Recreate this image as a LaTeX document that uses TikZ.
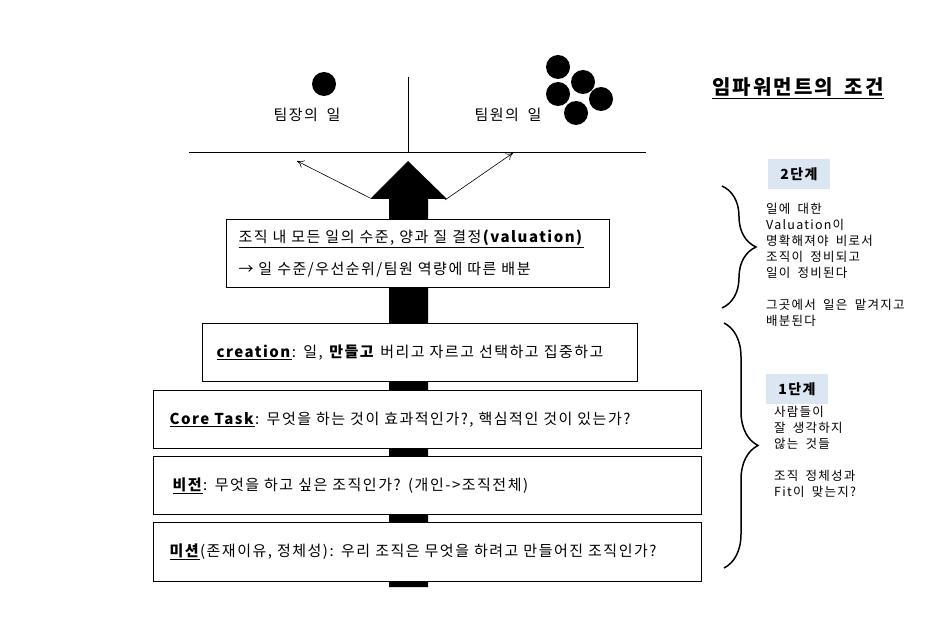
\documentclass[tikz,border=0pt]{standalone}
\usepackage{fontspec}
\setmainfont{Noto Sans CJK KR}[LetterSpace=10,WordSpace=1.8]
\usetikzlibrary{positioning,arrows.meta,decorations.pathreplacing}
\definecolor{stepblue}{HTML}{DCE6F2}

\begin{document}
\begin{tikzpicture}[x=1pt,y=-1pt,
  workbox/.style={draw,line width=1pt,fill=white,anchor=north west,align=left,inner xsep=16pt,font=\fontsize{15}{17}\selectfont},
  dot/.style={circle,fill=black,minimum size=24pt,inner sep=0pt},
  side/.style={font=\fontsize{15}{18}\selectfont},
  note/.style={align=left,anchor=north west,inner sep=0pt,font=\fontsize{12.5}{16}\selectfont},
  stagebox/.style={fill=stepblue,minimum width=62pt,minimum height=30pt,inner sep=0pt,font=\bfseries\fontsize{14}{16}\selectfont},
  stagebrace/.style={decorate,decoration={brace,amplitude=34pt},line width=1.5pt}
]
\useasboundingbox (0,0) rectangle (951,628);

% balance on top
\coordinate (beamL) at (189,152);
\coordinate (beamR) at (646,152);
\coordinate (pivot) at (408,152);
\coordinate (pole) at (408,77);
\draw[line width=0.8pt] (beamL) -- (beamR);
\draw[line width=0.8pt] (pivot) -- (pole);

\node[dot] (lead) at (324,84) {};
\node[side] (leadwork) at (307,115) {팀장의 일};
\node[dot] (m1) at (558,67) {};
\node[dot] (m2) at (583,82) {};
\node[dot] (m3) at (558,94) {};
\node[dot] (m4) at (601,99) {};
\node[dot] (m5) at (576,113) {};
\node[side] (teamwork) at (508,115) {팀원의 일};

\node[font=\bfseries\fontsize{20}{22}\selectfont] (title) at (798,88) {\underline{임파워먼트의 조건}};

% big arrow behind the boxes
\fill (408,161) -- (447,199) -- (428,199) -- (428,587) -- (389,587) -- (389,199) -- (370,199) -- cycle;

\coordinate (headL) at (370,198);
\coordinate (headR) at (445,200);
\coordinate (toLead) at (297,161);
\coordinate (toTeam) at (513,153);
\draw[-{To[length=7pt,width=8pt]},line width=0.6pt] (headL) -- (toLead);
\draw[-{To[length=7pt,width=8pt]},line width=0.6pt] (headR) -- (toTeam);

% stacked boxes
\node[workbox,inner xsep=12pt,text width=359pt,minimum height=68pt] (valuation) at (226,219)
  {\underline{조직 내 모든 일의 수준, 양과 질 결정\textbf{(valuation)}}\\[13pt]
   → 일 수준/우선순위/팀원 역량에 따른 배분};
\node[workbox,inner xsep=14pt,text width=407pt,minimum height=58pt] (creation) at (202,323)
  {\underline{\textbf{creation}}: 일, \textbf{만들고} 버리고 자르고 선택하고 집중하고};
\node[workbox,text width=516pt,minimum height=58pt] (core) at (153,390)
  {\underline{\textbf{Core Task}}: 무엇을 하는 것이 효과적인가?, 핵심적인 것이 있는가?};
\node[workbox,inner xsep=19pt,text width=510pt,minimum height=58pt] (vision) at (153,456)
  {\underline{\textbf{비전}}: 무엇을 하고 싶은 조직인가? (개인->조직전체)};
\node[workbox,text width=516pt,minimum height=59pt] (mission) at (153,522)
  {\underline{\textbf{미션}}(존재이유, 정체성): 우리 조직은 무엇을 하려고 만들어진 조직인가?};

% stages on the right
\node[stagebox] (stage2) at (799,174) {2단계};
\draw[stagebrace] (722,186) -- (722,308);
\node[note] (stage2note) at (766,203)
  {일에 대한\\Valuation이\\명확해져야 비로서\\조직이 정비되고\\일이 정비된다\\[16pt]
   그곳에서 일은 맡겨지고\\배분된다};

\node[stagebox] (stage1) at (797,389) {1단계};
\draw[stagebrace] (724,323) -- (724,568);
\node[note] (stage1note) at (774,406)
  {사람들이\\잘 생각하지\\않는 것들\\[16pt]
   조직 정체성과\\Fit이 맞는지?};
\end{tikzpicture}
\end{document}
